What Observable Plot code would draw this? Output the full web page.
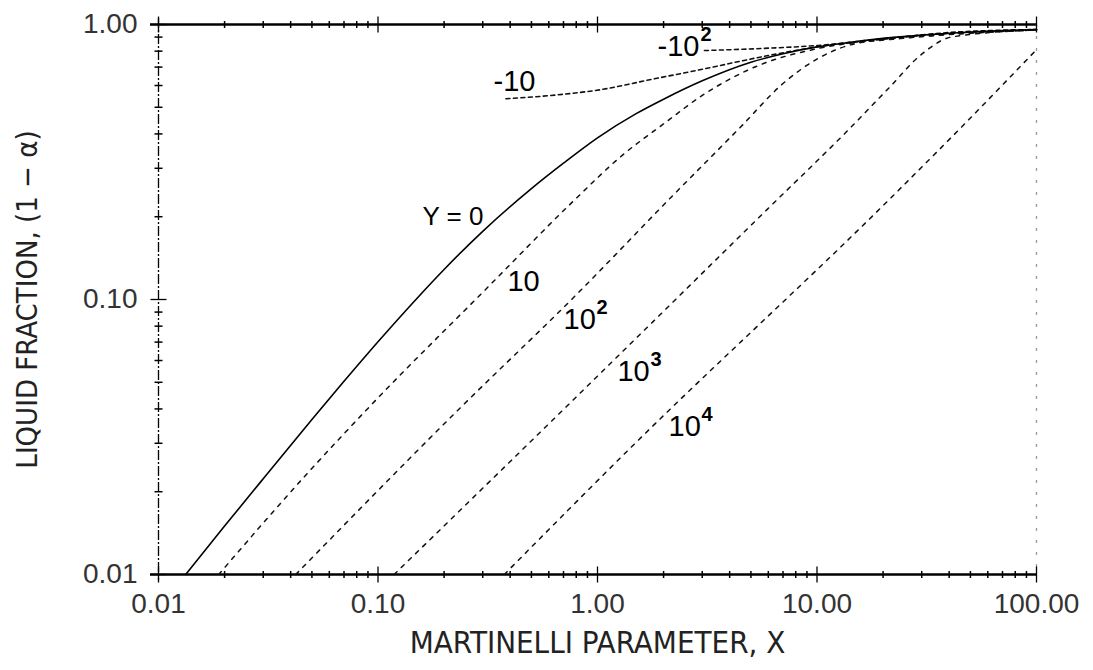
<!DOCTYPE html>
<html>
<head>
<meta charset="utf-8">
<script src="https://cdn.jsdelivr.net/npm/d3@7"></script>
<script src="https://cdn.jsdelivr.net/npm/@observablehq/plot@0.6"></script>
<style>
  html, body { margin: 0; padding: 0; background: #fff; }
</style>
</head>
<body>
<div id="chart"></div>
<script>
// ---- text ----
const xTitle = "MARTINELLI PARAMETER, X";
const yTitle = "LIQUID FRACTION, (1 \u2212 \u03B1)";

// ---- axes ----
const xDomain = [0.01, 100];
const yDomain = [0.01, 1];
const xTickValues = [0.01, 0.1, 1, 10, 100];
const xTickLabels = ["0.01", "0.10", "1.00", "10.00", "100.00"];
const yTickValues = [0.01, 0.1, 1];
const yTickLabels = ["0.01", "0.10", "1.00"];
const xMinorTicks = [0.02, 0.03, 0.04, 0.05, 0.06, 0.07, 0.08, 0.09,
                     0.2, 0.3, 0.4, 0.5, 0.6, 0.7, 0.8, 0.9,
                     2, 3, 4, 5, 6, 7, 8, 9,
                     20, 30, 40, 50, 60, 70, 80, 90];
const yMinorTicks = [0.02, 0.03, 0.04, 0.05, 0.06, 0.07, 0.08, 0.09,
                     0.2, 0.3, 0.4, 0.5, 0.6, 0.7, 0.8, 0.9];

// ---- curves: Martinelli parameter X vs liquid fraction (1 - alpha), parameter Y ----
const seriesNames = ["0", "10", "100", "1000", "10000", "-10", "-100"];

const x_Y0  = [0.0133, 0.02, 0.03, 0.05, 0.07, 0.1, 0.15, 0.2, 0.3, 0.5, 0.7, 1, 1.5, 2, 3, 5, 7, 10, 15, 20, 30, 50, 100];
const lf_Y0 = [0.0100, 0.0150, 0.0223, 0.0366, 0.0504, 0.0702, 0.1007, 0.1286, 0.177, 0.253, 0.313, 0.387, 0.474, 0.535, 0.624, 0.729, 0.783, 0.829, 0.867, 0.890, 0.915, 0.939, 0.958];

const x_Y10  = [0.0188, 0.046, 0.0927, 0.317, 0.781, 1.3, 2.0, 3.0, 5.4, 10.1, 24, 100];
const lf_Y10 = [0.0100, 0.0226, 0.0412, 0.111, 0.229, 0.335, 0.435, 0.552, 0.709, 0.818, 0.889, 0.955];

const x_Y100  = [0.0422, 0.2343, 0.8, 2.16, 4.5, 7.0, 10.1, 14.8, 30, 100];
const lf_Y100 = [0.0100, 0.0400, 0.104, 0.235, 0.425, 0.610, 0.752, 0.850, 0.905, 0.956];

const x_Y1000  = [0.1184, 0.770, 5.97, 13.8, 21.1, 30, 40.9, 100];
const lf_Y1000 = [0.0100, 0.0429, 0.2137, 0.4116, 0.584, 0.780, 0.900, 0.955];

const x_Y10000  = [0.376, 1.397, 21.1, 47.1, 100];
const lf_Y10000 = [0.0100, 0.0286, 0.229, 0.4355, 0.81];

const x_Yn10  = [0.3826, 0.614, 1.04, 1.754, 2.965, 5.99, 10.1, 24, 100];
const lf_Yn10 = [0.537, 0.552, 0.580, 0.631, 0.686, 0.771, 0.830, 0.900, 0.958];

const x_Yn100  = [3.07, 5.57, 10.1, 17.7, 40, 100];
const lf_Yn100 = [0.804, 0.818, 0.839, 0.875, 0.935, 0.959];

// ---- curve labels (base + exponent) ----
const curveLabelBase = ["10", "10", "10", "10", "-10", "-10"];
const curveLabelExp  = ["", "2", "3", "4", "", "2"];
const curveLabelX = [0.389, 0.700, 1.233, 2.106, 0.336, 1.876];
const curveLabelY = [0.1163, 0.0846, 0.0547, 0.0345, 0.620, 0.832];
const zeroLabel = "Y = 0";
const zeroLabelX = 0.3024;
const zeroLabelY = 0.2004;

// ---- build tables ----
const seriesX = [x_Y0, x_Y10, x_Y100, x_Y1000, x_Y10000, x_Yn10, x_Yn100];
const seriesLF = [lf_Y0, lf_Y10, lf_Y100, lf_Y1000, lf_Y10000, lf_Yn10, lf_Yn100];
const rows = seriesNames.flatMap((s, k) => seriesX[k].map((xv, i) => ({series: s, x: xv, lf: seriesLF[k][i]})));
const solidRows = rows.filter(d => d.series === "0");
const posRows = rows.filter(d => ["10", "100", "1000", "10000"].includes(d.series));
const negRows = rows.filter(d => ["-10", "-100"].includes(d.series));
const labelRows = curveLabelBase.map((t, i) => ({text: t, exp: curveLabelExp[i], x: curveLabelX[i], y: curveLabelY[i]}));
const expPos = labelRows.filter(d => d.exp !== "" && d.text === "10");
const expNeg = labelRows.filter(d => d.exp !== "" && d.text === "-10");

const xTickRowsMinor = xMinorTicks.flatMap(v => yDomain.map(e => ({x: v, y: e})));
const xTickRowsMajor = xTickValues.flatMap(v => yDomain.map(e => ({x: v, y: e})));
const yTickRowsMinor = yMinorTicks.map(v => ({x: xDomain[0], y: v}));
const yTickRowsMajor = yTickValues.map(v => ({x: xDomain[0], y: v}));

const vbar = {draw(ctx, size) { const r = Math.sqrt(size / Math.PI); ctx.moveTo(0, -r); ctx.lineTo(0, r); }};
const hbar = {draw(ctx, size) { const r = Math.sqrt(size / Math.PI); ctx.moveTo(-r, 0); ctx.lineTo(r, 0); }};

const xLab = new Map(xTickValues.map((v, i) => [v, xTickLabels[i]]));
const yLab = new Map(yTickValues.map((v, i) => [v, yTickLabels[i]]));

const narrow = '"Liberation Sans Narrow", "DejaVu Sans Condensed", "Liberation Sans", Arial, sans-serif';
const regular = '"Liberation Sans", Arial, sans-serif';

const chart = Plot.plot({
  width: 1093,
  height: 670,
  marginLeft: 158,
  marginRight: 57,
  marginTop: 24,
  marginBottom: 96,
  style: {fontFamily: regular, fontSize: "28px", background: "#fff", color: "#333"},
  x: {type: "log", domain: xDomain, ticks: xTickValues, tickFormat: d => xLab.get(d), tickSize: 0, tickPadding: 19, label: null},
  y: {type: "log", domain: yDomain, ticks: yTickValues, tickFormat: d => yLab.get(d), tickSize: 0, tickPadding: 21, label: null},
  marks: [
    // frame
    Plot.ruleY(yDomain, {stroke: "#000", strokeWidth: 2.4, insetLeft: -8}),
    Plot.ruleX([xDomain[0]], {stroke: "#000", strokeWidth: 1.3, strokeDasharray: "10,2,2,2", insetTop: -6, insetBottom: -6}),
    Plot.ruleX([xDomain[1]], {stroke: "#999", strokeWidth: 1.3, strokeDasharray: "3,9"}),
    // ticks
    Plot.dot(xTickRowsMinor, {x: "x", y: "y", symbol: vbar, r: 3.5, stroke: "#000", strokeWidth: 1.5, fill: "none"}),
    Plot.dot(xTickRowsMajor, {x: "x", y: "y", symbol: vbar, r: 8, stroke: "#000", strokeWidth: 1.3, fill: "none"}),
    Plot.dot(yTickRowsMinor, {x: "x", y: "y", symbol: hbar, r: 4, stroke: "#000", strokeWidth: 1.5, fill: "none"}),
    Plot.dot(yTickRowsMajor, {x: "x", y: "y", symbol: hbar, r: 8, stroke: "#000", strokeWidth: 1.3, fill: "none"}),
    // curves
    Plot.line(posRows, {x: "x", y: "lf", z: "series", stroke: "#111", strokeWidth: 1.5, strokeDasharray: "4,6", curve: "monotone-x"}),
    Plot.line(negRows, {x: "x", y: "lf", z: "series", stroke: "#111", strokeWidth: 1.6, strokeDasharray: "4,3.5", curve: "monotone-x"}),
    Plot.line(solidRows, {x: "x", y: "lf", stroke: "#000", strokeWidth: 1.6, curve: "monotone-x"}),
    // curve labels
    Plot.text(labelRows, {x: "x", y: "y", text: "text", textAnchor: "start", fontSize: 29, fill: "#000", fontFamily: regular}),
    Plot.text(expPos, {x: "x", y: "y", text: "exp", textAnchor: "start", dx: 33, dy: -12, fontSize: 20, fontWeight: "bold", fill: "#000", fontFamily: regular}),
    Plot.text(expNeg, {x: "x", y: "y", text: "exp", textAnchor: "start", dx: 43, dy: -12, fontSize: 20, fontWeight: "bold", fill: "#000", fontFamily: regular}),
    Plot.text([zeroLabel], {x: () => zeroLabelX, y: () => zeroLabelY, text: d => d, textAnchor: "end", fontSize: 26, fill: "#000", fontFamily: regular}),
    // titles
    Plot.text([xTitle], {frameAnchor: "bottom", dy: 78, text: d => d, textAnchor: "middle", fontSize: 31, fill: "#222", fontFamily: narrow}),
    Plot.text([yTitle], {frameAnchor: "left", dx: -131, rotate: -90, text: d => d, textAnchor: "middle", fontSize: 29, fill: "#222", fontFamily: narrow})
  ]
});
document.getElementById("chart").appendChild(chart);
</script>
</body>
</html>
